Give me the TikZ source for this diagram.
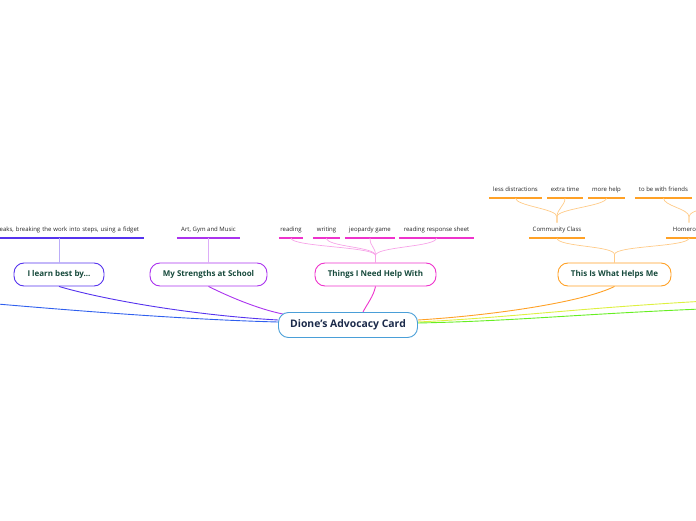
\documentclass[tikz,border=0pt]{standalone}
\usepackage{fontspec}
\setmainfont{Open Sans}
\usepackage{tikz}
\usetikzlibrary{backgrounds}
\definecolor{cardblue}{HTML}{4A9FD8}
\definecolor{cardnavy}{HTML}{1B2A4A}
\definecolor{topicgreen}{HTML}{174A3C}
\definecolor{leftblue}{HTML}{2F5FEE}
\definecolor{learnviolet}{HTML}{5533EE}
\definecolor{strengthpurple}{HTML}{AA33EE}
\definecolor{helpmagenta}{HTML}{EE33CC}
\definecolor{helpsorange}{HTML}{FFA126}
\definecolor{branchyellow}{HTML}{DDF040}
\definecolor{branchgreen}{HTML}{66EE22}
\tikzset{
  card/.style={rounded corners=10pt,draw=cardblue,fill=white,line width=0.9pt,
    minimum width=139pt,minimum height=25pt,text=cardnavy,
    font=\fontsize{10.4}{12}\selectfont\bfseries},
  topic/.style={rounded corners=10pt,fill=white,line width=0.9pt,
    minimum height=23pt,text=topicgreen,
    font=\fontsize{8}{10}\selectfont\bfseries},
  leaf/.style={anchor=south,inner xsep=0pt,inner ysep=4.5pt,text height=4.5pt,
    text depth=1.4pt,text=black!85,font=\fontsize{6}{7}\selectfont},
  underline/.style={line width=1.4pt},
  branch/.style={line width=0.9pt},
  twig/.style={line width=0.7pt}
}
\begin{document}
\begin{tikzpicture}[x=1pt,y=1pt]
  \clip (0,0) rectangle (696,520);
  \node[card] (card) at (348,195) {Dione's Advocacy Card};
  \node[topic,draw=learnviolet,minimum width=90pt] (learn) at (59,245.5) {I learn best by...};
  \node[topic,draw=strengthpurple,minimum width=117pt] (strengths) at (208.5,245.5) {My Strengths at School};
  \node[topic,draw=helpmagenta,minimum width=121pt] (things) at (375.5,245.5) {Things I Need Help With};
  \node[topic,draw=helpsorange,minimum width=113pt] (helps) at (614.5,245.5) {This Is What Helps Me};

  % leaves of the topics
  \node[leaf,text width=160pt,align=right,inner xsep=5pt] (fidget) at (59,282)
    {breaks, breaking the work into steps, using a fidget};
  \node[leaf,minimum width=63pt] (art) at (208.5,282) {Art, Gym and Music};
  \node[leaf,minimum width=24pt] (reading) at (291,282) {reading};
  \node[leaf,minimum width=27pt] (writing) at (326.5,282) {writing};
  \node[leaf,minimum width=50pt] (jeopardy) at (370,282) {jeopardy game};
  \node[leaf,minimum width=75pt] (response) at (436.5,282) {reading response sheet};
  \node[leaf,minimum width=56pt] (community) at (557,282) {Community Class};
  \node[leaf,minimum width=46pt] (homeroom) at (689,282) {Homeroom};
  \node[leaf,minimum width=53pt] (less) at (515.5,322) {less distractions};
  \node[leaf,minimum width=36pt] (extra) at (565,322) {extra time};
  \node[leaf,minimum width=37pt] (more) at (606.5,322) {more help};
  \node[leaf,minimum width=57pt] (friends) at (663.5,322) {to be with friends};
  \node[leaf,minimum width=56pt] (hidden) at (725,322) {};

  \foreach \n/\c in {fidget/learnviolet,art/strengthpurple,reading/helpmagenta,
      writing/helpmagenta,jeopardy/helpmagenta,response/helpmagenta,
      community/helpsorange,homeroom/helpsorange,less/helpsorange,
      extra/helpsorange,more/helpsorange,friends/helpsorange,hidden/helpsorange}
    \draw[underline,\c] (\n.south west) -- (\n.south east);

  \draw[twig,learnviolet!40] (fidget.south) -- (learn.north);
  \draw[twig,strengthpurple!40] (art.south) -- (strengths.north);
  \foreach \n in {reading,writing,jeopardy,response}
    \draw[twig,helpmagenta!45] (\n.south) .. controls +(0,-9) and +(0,9) .. ([yshift=7pt]things.north) -- (things.north);
  \foreach \n in {community,homeroom}
    \draw[twig,helpsorange!55] (\n.south) .. controls +(0,-9) and +(0,9) .. ([yshift=8pt]helps.north) -- (helps.north);
  \foreach \n in {less,extra,more}
    \draw[twig,helpsorange!55] (\n.south) .. controls +(0,-8) and +(0,8) .. ([yshift=6pt]community.north) -- (community.north);
  \foreach \n in {friends,hidden}
    \draw[twig,helpsorange!55] (\n.south) .. controls +(0,-8) and +(0,8) .. ([yshift=6pt]homeroom.north) -- (homeroom.north);

  % main branches, under the card
  \coordinate (offleft) at (-20,217.5);
  \coordinate (offyellow) at (725,220);
  \coordinate (offgreen) at (725,212);
  \begin{scope}[on background layer]
    \draw[branch,leftblue] (offleft) .. controls (100,207) and (200,200) .. ([yshift=3pt]card.west);
    \draw[branch,learnviolet] (learn.south) .. controls +(40,-12) and +(-90,5) .. ([yshift=5pt]card.west);
    \draw[branch,strengthpurple] (strengths.south) .. controls +(20,-10) and +(-25,5) .. ([xshift=5pt,yshift=-2pt]card.north west);
    \draw[branch,helpmagenta] (things.south) .. controls +(-2,-10) and +(4,8) .. ([xshift=15pt]card.north);
    \draw[branch,helpsorange] ([yshift=5pt]card.east) .. controls +(80,5) and +(-30,-15) .. (helps.south);
    \draw[branch,branchyellow] ([yshift=3pt]card.east) .. controls +(100,5) and +(-150,-8) .. (offyellow);
    \draw[branch,branchgreen] ([yshift=2pt]card.east) .. controls +(100,2) and +(-150,-6) .. (offgreen);
  \end{scope}
\end{tikzpicture}
\end{document}
